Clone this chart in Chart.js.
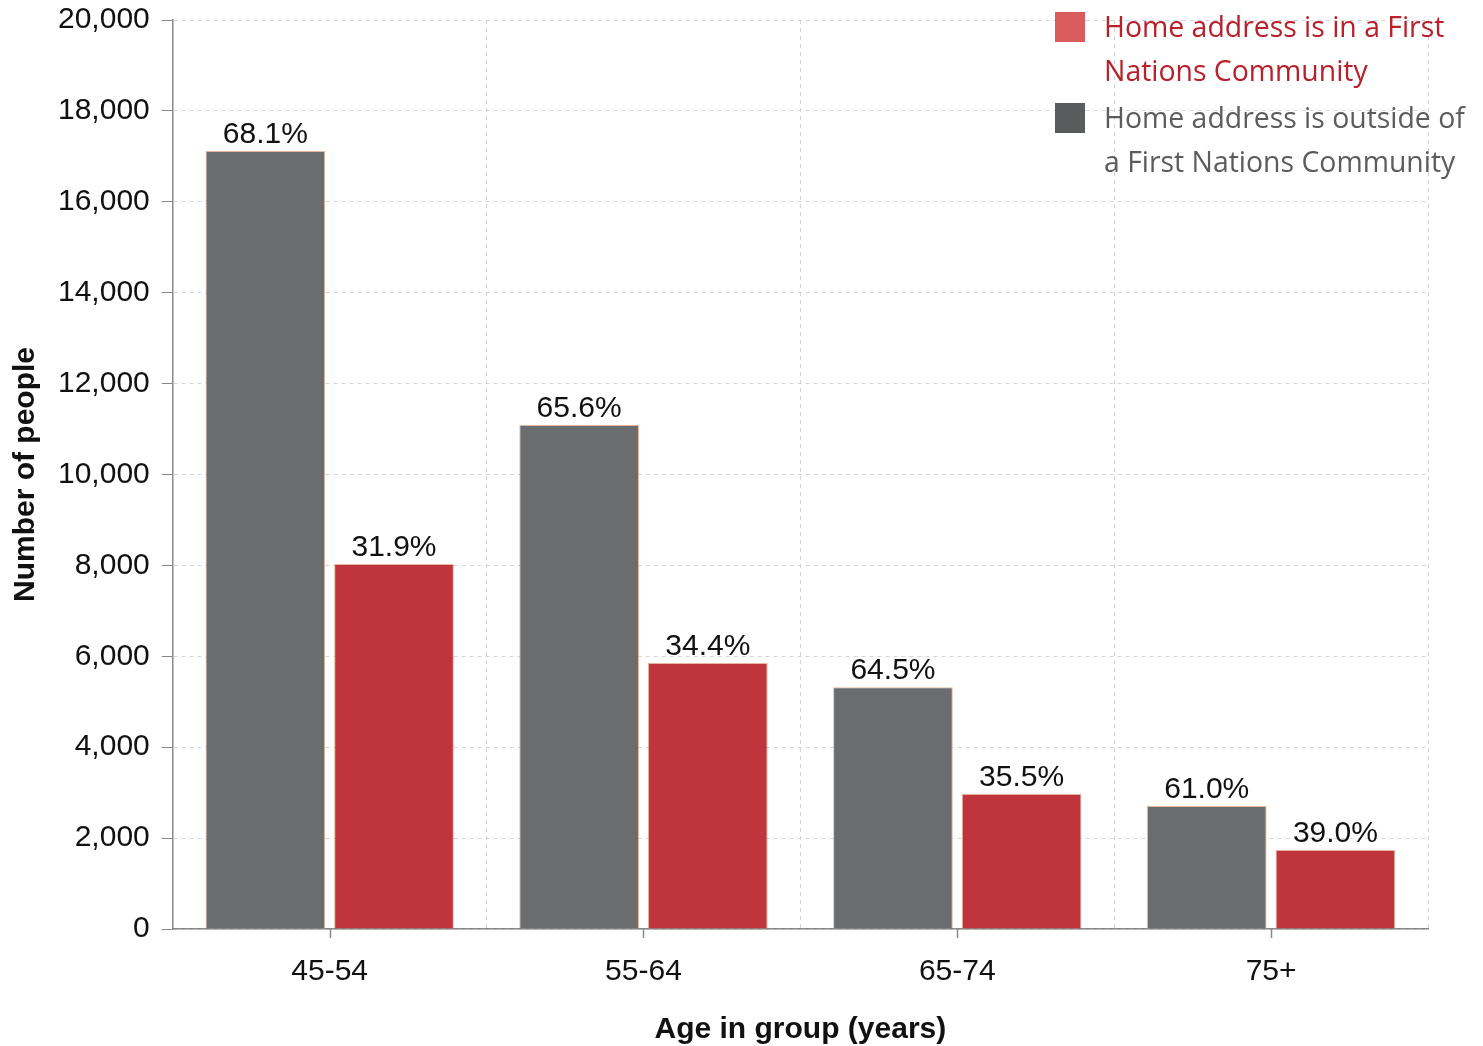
<!DOCTYPE html>
<html>
<head>
<meta charset="utf-8">
<script src="https://cdn.jsdelivr.net/npm/chart.js@4/dist/chart.umd.min.js"></script>
<style>
  html, body { margin: 0; padding: 0; background: #fff; }
  #wrap { width: 1483px; height: 1046px; }
</style>
</head>
<body>
<div id="wrap"><canvas id="chart"></canvas></div>
<script>
const ageGroups = ["45-54", "55-64", "65-74", "75+"];
const outsideCounts = [17120, 11090, 5320, 2705];
const insideCounts = [8030, 5850, 2970, 1740];
const outsidePct = ["68.1%", "65.6%", "64.5%", "61.0%"];
const insidePct = ["31.9%", "34.4%", "35.5%", "39.0%"];
const insideLegend = ["Home address is in a First", "Nations Community"];
const outsideLegend = ["Home address is outside of", "a First Nations Community"];

const GRAY = "#6b6c6e";
const RED = "#c0343c";
const FONT = "'Liberation Sans', Arial, sans-serif";

// percent labels above each bar
const barLabels = {
  id: "barLabels",
  afterDatasetsDraw(chart) {
    const ctx = chart.ctx;
    const texts = [outsidePct, insidePct];
    ctx.save();
    ctx.font = "30px " + FONT;
    ctx.fillStyle = "#111";
    ctx.textAlign = "center";
    ctx.textBaseline = "bottom";
    chart.data.datasets.forEach((ds, i) => {
      chart.getDatasetMeta(i).data.forEach((bar, j) => {
        ctx.fillText(texts[i][j], bar.x, bar.y - 1);
      });
    });
    ctx.restore();
  }
};

// x tick marks at category centres
const centerTicks = {
  id: "centerTicks",
  afterDraw(chart) {
    const ctx = chart.ctx;
    const x = chart.scales.x;
    const y = chart.chartArea.bottom;
    ctx.save();
    ctx.strokeStyle = "#888";
    ctx.lineWidth = 1.5;
    ageGroups.forEach((_, i) => {
      const px = Math.round(x.getPixelForValue(i)) + 0.5;
      ctx.beginPath();
      ctx.moveTo(px, y);
      ctx.lineTo(px, y + 9);
      ctx.stroke();
    });
    ctx.restore();
  }
};

// wrapped legend in the top right corner
const sideLegend = {
  id: "sideLegend",
  afterDraw(chart) {
    const ctx = chart.ctx;
    const items = [
      { box: "#d95b5b", text: "#b8202a", lines: insideLegend, y: 27 },
      { box: "#5a5b5d", text: "#5c5c5e", lines: outsideLegend, y: 118 }
    ];
    ctx.save();
    ctx.font = "28.4px 'Open Sans', sans-serif";
    ctx.textBaseline = "middle";
    ctx.textAlign = "left";
    items.forEach(it => {
      ctx.fillStyle = it.box;
      ctx.fillRect(1055, it.y - 15, 30, 30);
      ctx.fillStyle = it.text;
      it.lines.forEach((ln, k) => ctx.fillText(ln, 1104, it.y + 2 + k * 44));
    });
    ctx.restore();
  }
};

new Chart(document.getElementById("chart"), {
  type: "bar",
  data: {
    labels: ageGroups,
    datasets: [
      {
        label: outsideLegend.join(" "),
        data: outsideCounts,
        backgroundColor: GRAY,
        borderColor: "rgba(215,150,110,0.7)",
        borderWidth: 1,
        categoryPercentage: 0.82,
        barPercentage: 0.93
      },
      {
        label: insideLegend.join(" "),
        data: insideCounts,
        backgroundColor: RED,
        borderColor: "rgba(215,150,110,0.7)",
        borderWidth: 1,
        categoryPercentage: 0.82,
        barPercentage: 0.93
      }
    ]
  },
  options: {
    responsive: true,
    maintainAspectRatio: false,
    animation: false,
    layout: { padding: { left: 11, right: 55, top: 20, bottom: 1 } },
    plugins: {
      legend: { display: false },
      tooltip: { enabled: false }
    },
    scales: {
      x: {
        grid: { color: "#d4d4d4", offset: true, tickColor: "transparent", tickLength: 8 },
        border: { color: "#888", width: 1.5, dash: [4, 4] },
        ticks: { color: "#111", font: { size: 30, family: FONT, lineHeight: 1.2 }, padding: 17 },
        title: {
          display: true,
          text: "Age in group (years)",
          color: "#111",
          font: { size: 30, weight: "bold", family: FONT, lineHeight: 1 },
          padding: { top: 8, bottom: 0 }
        }
      },
      y: {
        min: 0,
        max: 20000,
        afterFit: s => { s.paddingTop = 0; },
        grid: { color: "#d4d4d4", tickColor: "#888", tickLength: 11 },
        border: { color: "#888", width: 1.5, dash: [4, 4] },
        ticks: {
          stepSize: 2000,
          color: "#111",
          padding: 12,
          font: { size: 30, family: FONT },
          callback: v => v.toLocaleString("en-US")
        },
        title: {
          display: true,
          text: "Number of people",
          color: "#111",
          font: { size: 30, weight: "bold", family: FONT, lineHeight: 1 },
          padding: { top: 0, bottom: 5 }
        }
      }
    }
  },
  plugins: [barLabels, centerTicks, sideLegend]
});
</script>
</body>
</html>
